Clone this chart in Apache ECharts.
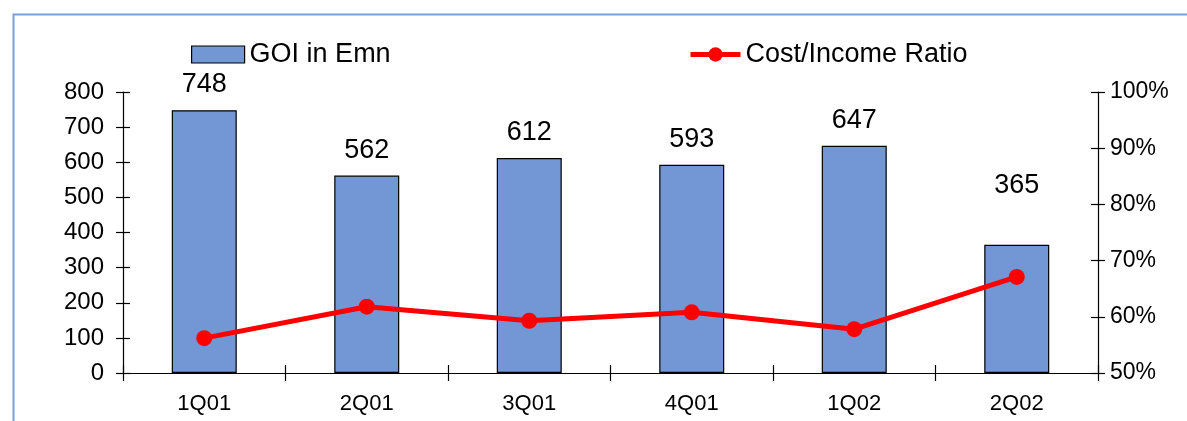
<!DOCTYPE html>
<html>
<head>
<meta charset="utf-8">
<script src="https://cdn.jsdelivr.net/npm/echarts@6/dist/echarts.min.js"></script>
<style>
  html, body { margin: 0; padding: 0; background: #fff; }
  #chart { width: 1187px; height: 421px; }
</style>
</head>
<body>
<div id="chart"></div>
<script>
// Quarterly gross operating income and cost/income ratio
const quarters = ['1Q01', '2Q01', '3Q01', '4Q01', '1Q02', '2Q02'];
const goiValues = [748, 562, 612, 593, 647, 365];
const costIncomeRatio = [56.2, 61.8, 59.3, 60.8, 57.8, 67.1];
const goiName = 'GOI in Emn';
const ratioName = 'Cost/Income Ratio';

const FONT = '"Liberation Sans", Arial, sans-serif';
const BAR_COLOR = '#7396d4';
const LINE_COLOR = '#ff0000';

const chart = echarts.init(document.getElementById('chart'), null, { renderer: 'canvas' });

const axisLine = { show: true, onZero: false, lineStyle: { color: '#000', width: 1.2 } };
const tickStyle = { color: '#000', width: 1.2 };

const barData = goiValues.map((v, i) => {
  const item = { value: v };
  if (i === goiValues.length - 1) item.label = { distance: 46 };
  return item;
});

// Tick-only companion axis: shifted inward by half a tick so the marks straddle the axis line
const crossTicks = (extra, half) => Object.assign({
  offset: -half,
  axisLine: { show: false, onZero: false },
  axisTick: { show: true, inside: false, length: half * 2, lineStyle: tickStyle },
  axisLabel: { show: false },
  splitLine: { show: false }
}, extra);

chart.setOption({
  animation: false,
  backgroundColor: '#fff',
  textStyle: { fontFamily: FONT },
  graphic: [{
    type: 'rect',
    left: 11, top: 12,
    shape: { width: 1250, height: 480 },
    style: { fill: 'none', stroke: '#7f9fd9', lineWidth: 2 },
    silent: true
  }],
  legend: [{
    data: [{ name: goiName, icon: 'rect' }],
    left: 186, top: 36,
    itemWidth: 53, itemHeight: 17, itemGap: 9,
    textStyle: { fontSize: 27, color: '#000', fontFamily: FONT },
    itemStyle: { borderColor: '#000', borderWidth: 1.2 }
  }, {
    data: [ratioName],
    left: 683, top: 36,
    itemWidth: 50, itemHeight: 18, itemGap: 7,
    lineStyle: { width: 5 },
    textStyle: { fontSize: 27, color: '#000', fontFamily: FONT }
  }],
  grid: { left: 123, right: 89, top: 92, bottom: 48, containLabel: false },
  xAxis: [{
    type: 'category',
    data: quarters,
    position: 'bottom',
    axisLine: axisLine,
    axisTick: { show: false },
    axisLabel: { color: '#000', fontSize: 22, fontFamily: FONT, margin: 20 },
    splitLine: { show: false }
  }, crossTicks({ type: 'category', data: quarters, position: 'bottom' }, 8)],
  yAxis: [{
    type: 'value',
    min: 0, max: 800, interval: 100,
    position: 'left',
    axisLine: axisLine,
    axisTick: { show: false },
    axisLabel: { color: '#000', fontSize: 24, fontFamily: FONT, margin: 19 },
    splitLine: { show: false }
  }, {
    type: 'value',
    min: 50, max: 100, interval: 10,
    position: 'right',
    axisLine: axisLine,
    axisTick: { show: false },
    axisLabel: { color: '#000', fontSize: 23, fontFamily: FONT, margin: 12, formatter: '{value}%' },
    splitLine: { show: false }
  },
  crossTicks({ type: 'value', min: 0, max: 800, interval: 100, position: 'left' }, 7),
  crossTicks({ type: 'value', min: 50, max: 100, interval: 10, position: 'right' }, 7)],
  series: [{
    name: goiName,
    type: 'bar',
    data: barData,
    xAxisIndex: 0,
    yAxisIndex: 0,
    barWidth: '40%',
    itemStyle: { color: BAR_COLOR, borderColor: '#000', borderWidth: 1.2 },
    label: {
      show: true, position: 'top', distance: 12,
      color: '#000', fontSize: 27, fontFamily: FONT
    },
    z: 2
  }, {
    name: ratioName,
    type: 'line',
    data: costIncomeRatio,
    xAxisIndex: 0,
    yAxisIndex: 1,
    symbol: 'circle',
    symbolSize: 16,
    lineStyle: { color: LINE_COLOR, width: 5 },
    itemStyle: { color: LINE_COLOR },
    z: 3
  }, {
    // empty series bound to the tick-only axes
    type: 'line',
    data: [],
    xAxisIndex: 1,
    yAxisIndex: 2,
    silent: true
  }, {
    type: 'line',
    data: [],
    xAxisIndex: 1,
    yAxisIndex: 3,
    silent: true
  }]
});
</script>
</body>
</html>
